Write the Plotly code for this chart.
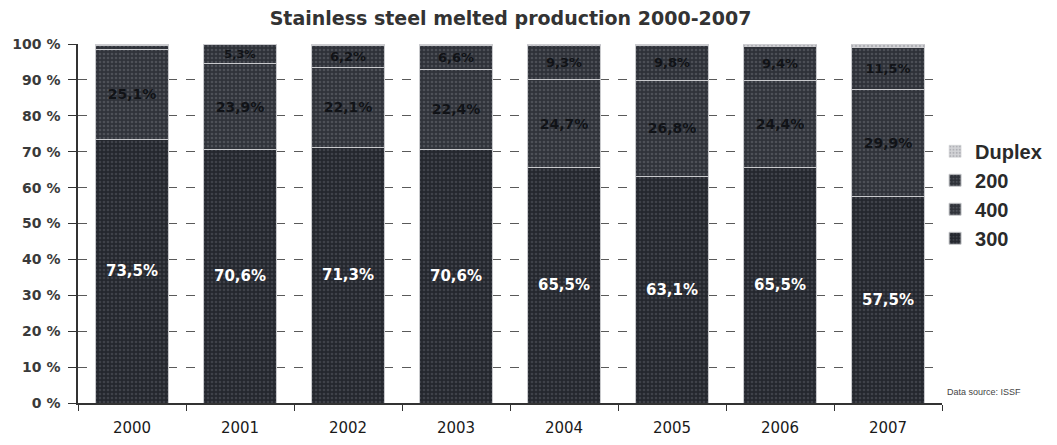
import plotly.graph_objects as go

years = ["2000", "2001", "2002", "2003", "2004", "2005", "2006", "2007"]
grade_300 = [73.5, 70.6, 71.3, 70.6, 65.5, 63.1, 65.5, 57.5]
grade_400 = [25.1, 23.9, 22.1, 22.4, 24.7, 26.8, 24.4, 29.9]
grade_200 = [1.1, 5.3, 6.2, 6.6, 9.3, 9.8, 9.4, 11.5]
duplex = [0.3, 0.2, 0.4, 0.4, 0.5, 0.3, 0.7, 1.1]
labelled_200 = [False, True, True, True, True, True, True, True]

y_ticks = [0, 10, 20, 30, 40, 50, 60, 70, 80, 90, 100]
y_tick_text = [f"{v} %" for v in y_ticks]


def pct(v):
    return f"{v:.1f}%".replace(".", ",")


ARIAL = "Liberation Sans, Arial, sans-serif"
WIDE = "DejaVu Sans, Verdana, sans-serif"

fig = go.Figure()


def grain(bg, fg):
    return dict(shape=".", bgcolor=bg, fgcolor=fg, size=4, solidity=0.35)


fig.add_trace(go.Bar(
    name="300", x=years, y=grade_300,
    text=[pct(v) for v in grade_300],
    textposition="inside", insidetextanchor="middle",
    textfont=dict(family=WIDE, size=15, color="white", weight="bold"),
    marker=dict(color="#24272e", pattern=grain("#24272e", "#5a5d65"),
                line=dict(color="#c9cacd", width=1)),
))
fig.add_trace(go.Bar(
    name="400", x=years, y=grade_400,
    text=[pct(v) for v in grade_400],
    textposition="inside", insidetextanchor="middle",
    textfont=dict(family=WIDE, size=14, color="#111317", weight="bold"),
    marker=dict(color="#30333a", pattern=grain("#30333a", "#6c6f76"),
                line=dict(color="#c9cacd", width=1)),
))
fig.add_trace(go.Bar(
    name="200", x=years, y=grade_200,
    text=[pct(v) if show else "" for v, show in zip(grade_200, labelled_200)],
    textposition="inside", insidetextanchor="middle",
    textfont=dict(family=WIDE, size=13, color="#111317", weight="bold"),
    marker=dict(color="#2e3138", pattern=grain("#2e3138", "#6a6d74"),
                line=dict(color="#c9cacd", width=1)),
))
fig.add_trace(go.Bar(
    name="Duplex", x=years, y=duplex,
    marker=dict(color="#b9bbbf", pattern=grain("#d2d3d6", "#8d9096"),
                line=dict(color="#c9cacd", width=0.5)),
))

fig.update_layout(
    barmode="stack",
    bargap=0.32,
    width=1057, height=445,
    margin=dict(l=78, r=115, t=44, b=42, autoexpand=False),
    paper_bgcolor="white", plot_bgcolor="white",
    font=dict(family=ARIAL, color="#2a2a2a"),
    title=dict(
        text="<b>Stainless steel melted production 2000-2007</b>",
        font=dict(family=WIDE, size=19, color="#333333"),
        x=0.483, xanchor="center", y=0.958, yanchor="middle",
    ),
    legend=dict(
        x=0.992, xanchor="left", y=0.58, yanchor="middle",
        font=dict(family=ARIAL, size=20, color="#2a2a2a", weight="bold"),
        bgcolor="rgba(0,0,0,0)", itemwidth=30,
    ),
    xaxis=dict(
        type="category",
        showline=True, linecolor="#333333", linewidth=1.5,
        ticks="outside", tickson="boundaries", ticklen=6,
        tickcolor="#333333", ticklabelstandoff=10,
        tickfont=dict(family=WIDE, size=15, color="#1a1a1a"),
        showgrid=False,
    ),
    yaxis=dict(
        range=[0, 100],
        tickvals=y_ticks, ticktext=y_tick_text,
        tickfont=dict(family=WIDE, size=14, color="#3a3a3a", weight="bold"),
        showline=True, linecolor="#333333", linewidth=1.5,
        ticks="outside", ticklen=8, tickcolor="#333333",
        ticklabelstandoff=5,
        showgrid=True, gridcolor="#5a5a5a", gridwidth=1, griddash="dash",
        zeroline=False,
    ),
    annotations=[dict(
        text="Data source: ISSF", xref="paper", yref="paper",
        x=1.004, y=0.03, xanchor="left", yanchor="middle",
        showarrow=False, font=dict(family=ARIAL, size=9, color="#444444"),
    )],
)

fig.write_html("out.html")
